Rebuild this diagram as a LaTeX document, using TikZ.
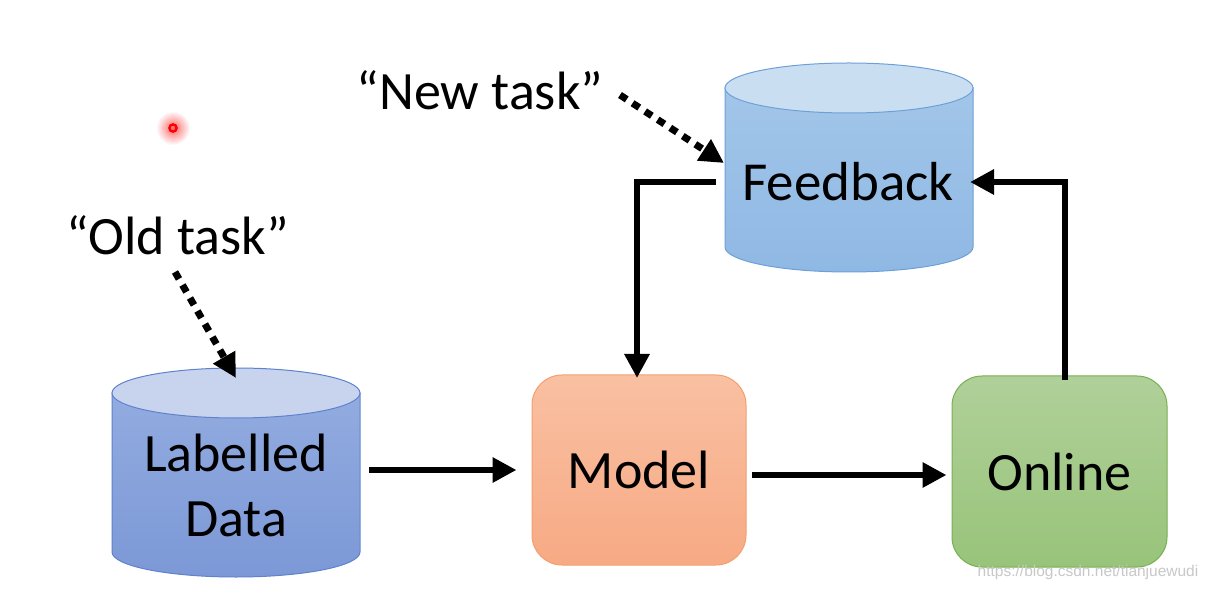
\documentclass[tikz,border=0pt]{standalone}
\usepackage{fontspec}
\setmainfont{Carlito}
\newfontfamily\wmfont{Liberation Sans}
\usetikzlibrary{arrows.meta,shapes.geometric}
\definecolor{ldtop}{RGB}{200,211,238}
\definecolor{ldbodyA}{RGB}{146,172,224}
\definecolor{ldbodyB}{RGB}{124,152,214}
\definecolor{ldedge}{RGB}{95,130,205}
\definecolor{fbtop}{RGB}{202,222,242}
\definecolor{fbbodyA}{RGB}{162,198,233}
\definecolor{fbbodyB}{RGB}{143,184,228}
\definecolor{fbedge}{RGB}{110,160,215}
\definecolor{mdA}{RGB}{249,192,162}
\definecolor{mdB}{RGB}{247,170,132}
\definecolor{mdedge}{RGB}{241,160,110}
\definecolor{onA}{RGB}{176,208,153}
\definecolor{onB}{RGB}{152,196,122}
\definecolor{onedge}{RGB}{120,175,80}
\definecolor{wm}{RGB}{200,200,200}
\tikzset{
  lbl/.style={font=\fontsize{54}{65}\selectfont, align=center, inner sep=0pt},
  conn/.style={line width=6pt, -{Triangle[length=24pt,width=24pt]}},
  dotconn/.style={line width=7pt, dash pattern=on 8pt off 7pt, -{Triangle[length=24pt,width=24pt]}},
  box/.style={rectangle, rounded corners=30pt, line width=1pt, inner sep=0pt},
}
\begin{document}
\begin{tikzpicture}[x=1pt,y=1pt]
\useasboundingbox (0,0) rectangle (1209,592);
\fill[white] (0,0) rectangle (1209,592);
% red pointer dot
\shade[inner color=red!60, outer color=white] (173,464) circle[radius=17pt];
\draw[red, line width=2.4pt] (173,464) circle[radius=3.6pt];
% Labelled Data cylinder
\shade[top color=ldbodyA, bottom color=ldbodyB, draw=ldedge, line width=1pt]
  (112,199) -- (112,40) arc[start angle=180, end angle=360, x radius=124pt, y radius=25pt] -- (360,199) -- cycle;
\filldraw[fill=ldtop, draw=ldedge, line width=1pt] (236,199) ellipse[x radius=124pt, y radius=25pt];
\node[lbl] (ld) at (236,107) {Labelled\\Data};
\coordinate (ldtopc) at (236,214);
\coordinate (ldright) at (369,122);
% Feedback cylinder
\shade[top color=fbbodyA, bottom color=fbbodyB, draw=fbedge, line width=1pt]
  (725,504) -- (725,345) arc[start angle=180, end angle=360, x radius=124pt, y radius=25pt] -- (973,504) -- cycle;
\filldraw[fill=fbtop, draw=fbedge, line width=1pt] (849,504) ellipse[x radius=124pt, y radius=25pt];
\node[lbl, font=\fontsize{55}{65}\selectfont] (fb) at (848,410) {Feedback};
\coordinate (fbleft) at (716,410);
\coordinate (fbright) at (970,410);
\coordinate (fbin) at (724,429);
% Model box
\node[box, minimum width=214pt, minimum height=190pt, top color=mdA, bottom color=mdB, draw=mdedge] (model) at (639,122) {};
\node[lbl] at (model.center) {Model};
% Online box
\node[box, minimum width=215pt, minimum height=191pt, top color=onA, bottom color=onB, draw=onedge] (online) at (1059.5,120.5) {};
\node[lbl] at (online.center) {Online};
% labels
\node[lbl] (newt) at (480,502) {“New task”};
\node[lbl] (oldt) at (178,357) {“Old task”};
\coordinate (newts) at (620,497);
\coordinate (oldts) at (175,320);
% connectors
\draw[conn, shorten >=15pt] (ldright) -- (model.west |- ldright);
\draw[conn, shorten >=5pt] (752,117) -- (online.west |- 0,117);
\draw[conn] (1065,212) |- (fbright);
\draw[conn] (fbleft) -| (637,214);
\draw[dotconn] (newts) -- (fbin);
\draw[dotconn] (oldts) -- (ldtopc);
% watermark
\node[font=\wmfont\fontsize{15.5}{15.5}\selectfont, text=wm, inner sep=0pt] (wmk) at (1088,20) {https://blog.csdn.net/tianjuewudi};
\end{tikzpicture}
\end{document}
